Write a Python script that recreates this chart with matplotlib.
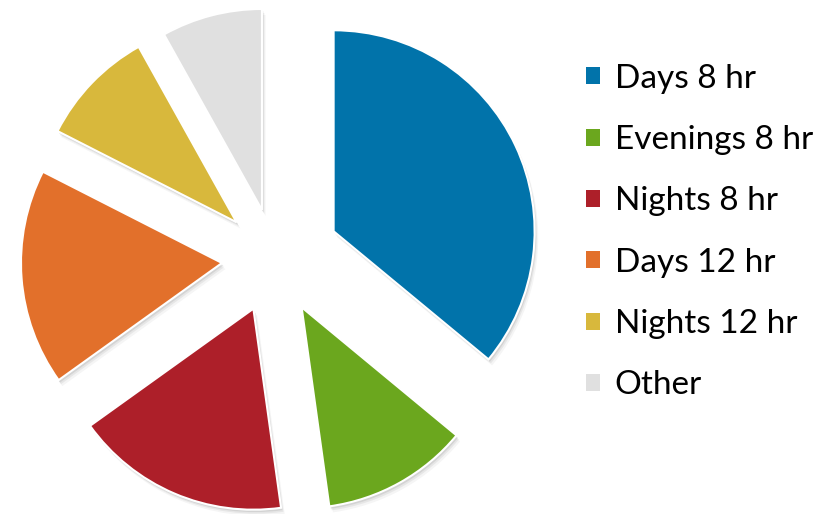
import matplotlib.pyplot as plt
from matplotlib.patches import Wedge

shifts = ["Days 8 hr", "Evenings 8 hr", "Nights 8 hr", "Days 12 hr", "Nights 12 hr", "Other"]
shares = [36, 11.8, 17.3, 17.4, 9.4, 8.1]
colors = ["#0173AA", "#6BA71E", "#AD1F29", "#E2702B", "#D8B83C", "#E0E0E0"]
pull = [0.324, 0.275, 0.269, 0.263, 0.263, 0.252]

plt.rcParams['font.family'] = ['Lato', 'DejaVu Sans']

fig = plt.figure(figsize=(8.31, 5.14), dpi=100)
ax = fig.add_axes([0, 0, 1, 1])

wedges, _ = ax.pie(shares, colors=colors, startangle=90, counterclock=False,
                   explode=pull, radius=1.0,
                   wedgeprops=dict(edgecolor="white", linewidth=1.5))

# soft drop shadow under each slice
for w in wedges:
    for k, a in [(0.03, 0.08), (0.02, 0.12), (0.012, 0.18)]:
        cx, cy = w.center
        s = Wedge((cx + k * 0.6, cy - k), w.r, w.theta1, w.theta2,
                  facecolor="#808080", edgecolor="none", alpha=a, zorder=0)
        ax.add_patch(s)
    w.set_zorder(2)

# 201 px per data unit, pie centre at (274.7, 259) px from top-left
px, py = 274.7, 259.0
ax.set_xlim(-px / 201, (831 - px) / 201)
ax.set_ylim(-(514 - py) / 201, py / 201)
ax.set_aspect('auto')
ax.axis('off')

leg = fig.legend(wedges, shifts, loc="upper left", bbox_to_anchor=(0.705, 0.876),
                 frameon=False, fontsize=24, handlelength=0.42, handleheight=0.42,
                 handletextpad=0.45, labelspacing=0.94, borderpad=0, borderaxespad=0)
for h in leg.legend_handles:
    h.set_edgecolor("none")

fig.savefig("out.png", dpi=100)
